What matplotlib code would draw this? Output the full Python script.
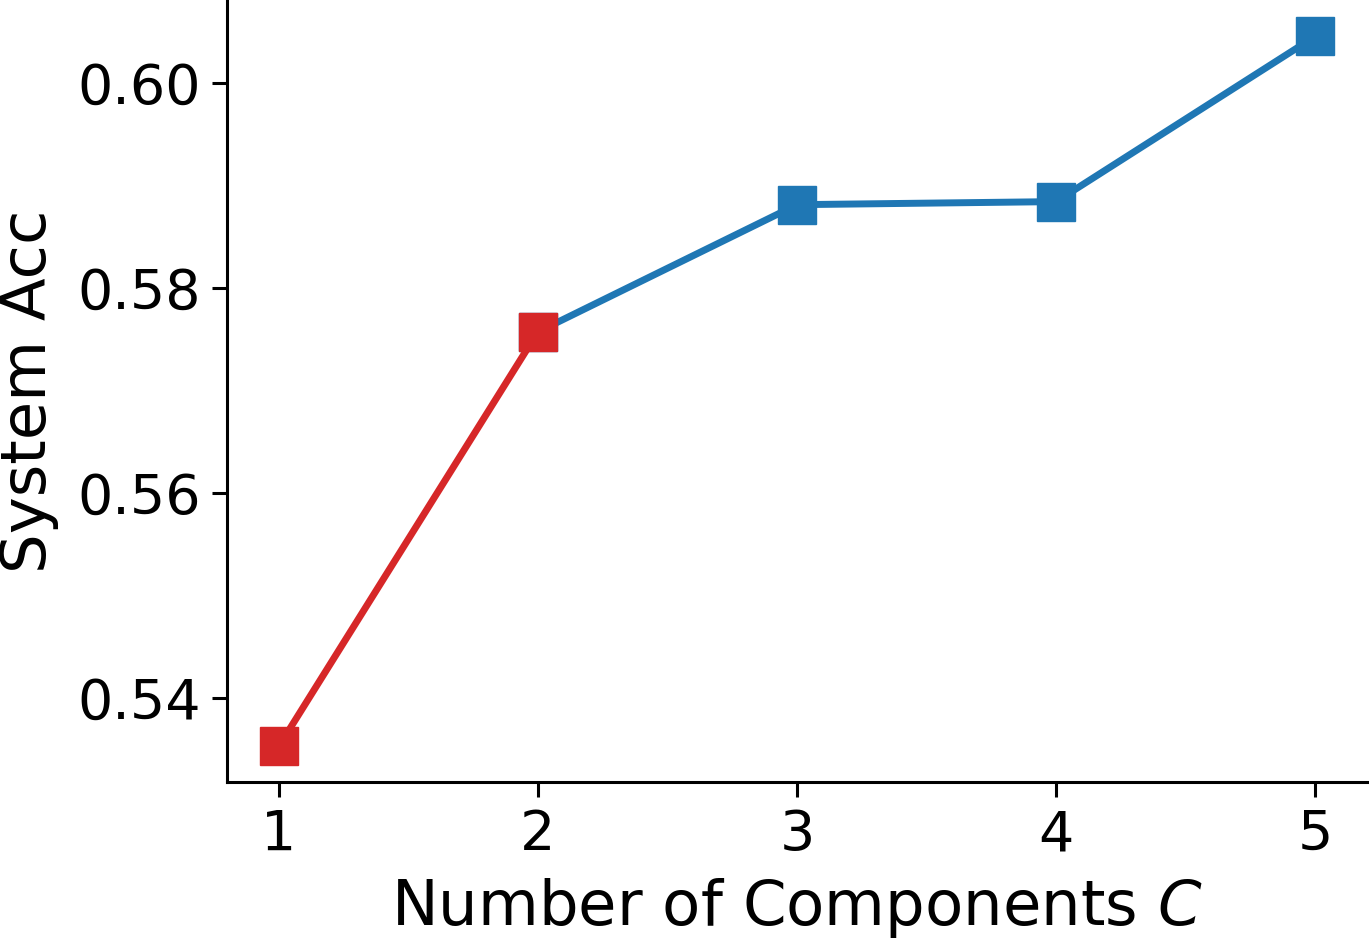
import matplotlib
matplotlib.use("Agg")
import matplotlib.pyplot as plt

# components C and system accuracy
components = [1, 2, 3, 4, 5]
acc = [0.5353, 0.5757, 0.5881, 0.5884, 0.6045]
red_idx = [0, 1]
blue_idx = [1, 2, 3, 4]

fig = plt.figure(figsize=(13.69, 9.42), dpi=100)
ax = fig.add_axes([0.1658, 0.170, 0.8327, 0.829])

ax.plot([components[i] for i in blue_idx], [acc[i] for i in blue_idx],
        color='#1f77b4', lw=5, marker='s', ms=27)
ax.plot([components[i] for i in red_idx], [acc[i] for i in red_idx],
        color='#d62728', lw=5, marker='s', ms=27)

ax.set_xticks(components)
ax.set_yticks([0.54, 0.56, 0.58, 0.60])
ax.set_yticklabels(['0.54', '0.56', '0.58', '0.60'])
ax.tick_params(labelsize=40, length=11, width=2.2, pad=8)
ax.set_xlabel('Number of Components $C$', fontsize=45, labelpad=10)
ax.set_ylabel('System Acc', fontsize=45, labelpad=13)

ax.spines['top'].set_visible(False)
ax.spines['right'].set_visible(False)
for s in ['left', 'bottom']:
    ax.spines[s].set_linewidth(2.2)

fig.savefig('out.png', dpi=100)
